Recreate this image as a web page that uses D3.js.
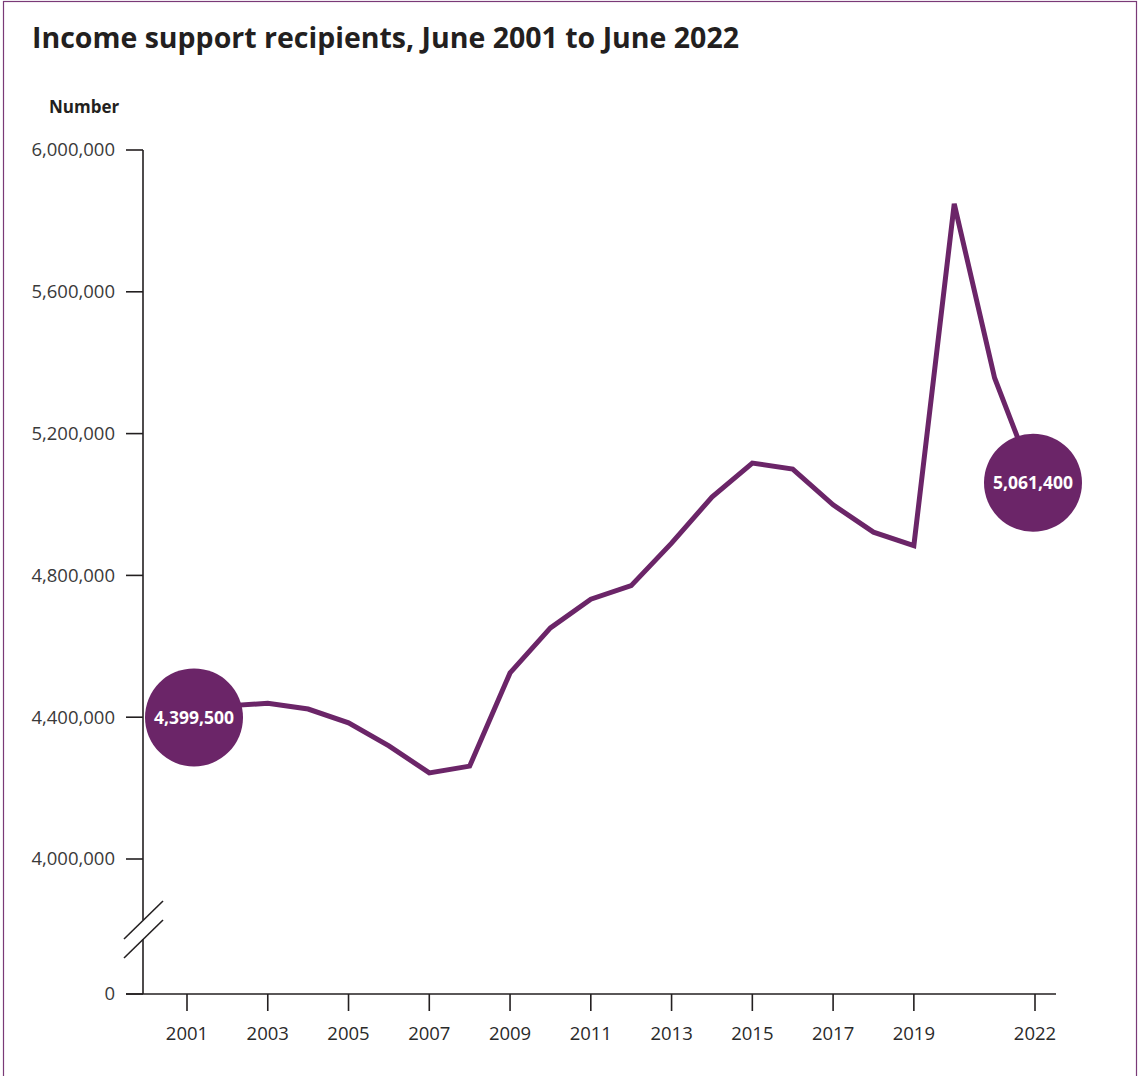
<!DOCTYPE html>
<html>
<head>
<meta charset="utf-8">
<script src="https://cdn.jsdelivr.net/npm/d3@7"></script>
<style>
  html, body { margin: 0; padding: 0; background: #fff; }
  svg { display: block; }
  text { font-family: "Open Sans", "Noto Sans", sans-serif; }
</style>
</head>
<body>
<svg id="chart" width="1140" height="1076"></svg>
<script>
// Income support recipients at June of each year
const years = [2001, 2002, 2003, 2004, 2005, 2006, 2007, 2008, 2009, 2010, 2011,
               2012, 2013, 2014, 2015, 2016, 2017, 2018, 2019, 2020, 2021, 2022];
const recipients = [4399500, 4432000, 4439000, 4423000, 4384000, 4319000, 4243000,
                     4262000, 4525000, 4652000, 4733000, 4771000, 4891000, 5021000,
                     5117000, 5100000, 4999000, 4922000, 4884000, 5848000, 5357000, 5061400];
const xTickYears = [2001, 2003, 2005, 2007, 2009, 2011, 2013, 2015, 2017, 2019, 2022];
const yTickValues = [0, 4000000, 4400000, 4800000, 5200000, 5600000, 6000000];
const highlighted = [
  { year: 2001, value: 4399500, dx: 7 },
  { year: 2022, value: 5061400, dx: -2 }
];

const purple = "#6b2568";
const ink = "#231f20";
const svg = d3.select("#chart");

// Outer frame
svg.append("rect")
  .attr("x", 3.5).attr("y", 1.5)
  .attr("width", 1133).attr("height", 1090)
  .attr("fill", "none").attr("stroke", "#7a3a77").attr("stroke-width", 1.2);

// Title and axis caption
svg.append("text")
  .attr("x", 32).attr("y", 48)
  .attr("font-size", 28.5).attr("font-weight", 700).attr("fill", "#231f20")
  .text("Income support recipients, June 2001 to June 2022");

svg.append("text")
  .attr("x", 49).attr("y", 113)
  .attr("font-size", 17).attr("font-weight", 700).attr("fill", "#231f20")
  .text("Number");

// Scales: the value axis is broken between 0 and 4,000,000
const x = d3.scaleLinear().domain([2001, 2022]).range([187, 1035]);
const y = d3.scaleLinear().domain([0, 4000000, 6000000]).range([994, 859, 150]);

const axisX = 143;
const baseY = y(0);

// Y axis with break
const yAxisG = svg.append("g").attr("stroke", ink).attr("stroke-width", 1.6).attr("fill", "none");
yAxisG.append("line").attr("x1", axisX).attr("x2", axisX).attr("y1", y(6000000)).attr("y2", 920);
yAxisG.append("line").attr("x1", axisX).attr("x2", axisX).attr("y1", 939).attr("y2", baseY);
yAxisG.append("line").attr("x1", 124).attr("y1", 939).attr("x2", 163).attr("y2", 901);
yAxisG.append("line").attr("x1", 124).attr("y1", 958).attr("x2", 163).attr("y2", 920);

const fmt = d3.format(",");
const yTicks = svg.append("g");
yTickValues.forEach(v => {
  yTicks.append("line")
    .attr("x1", 126).attr("x2", axisX)
    .attr("y1", y(v)).attr("y2", y(v))
    .attr("stroke", ink).attr("stroke-width", 1.6);
  yTicks.append("text")
    .attr("x", 115).attr("y", y(v))
    .attr("dy", "0.35em")
    .attr("text-anchor", "end")
    .attr("font-size", 18.5).attr("fill", "#3a3a3a")
    .text(fmt(v));
});

// X axis
const xAxisG = svg.append("g");
xAxisG.append("line")
  .attr("x1", 126).attr("x2", 1056)
  .attr("y1", baseY).attr("y2", baseY)
  .attr("stroke", ink).attr("stroke-width", 1.6);
xTickYears.forEach(yr => {
  xAxisG.append("line")
    .attr("x1", x(yr)).attr("x2", x(yr))
    .attr("y1", baseY).attr("y2", baseY + 17)
    .attr("stroke", ink).attr("stroke-width", 1.6);
  xAxisG.append("text")
    .attr("x", x(yr)).attr("y", 1040)
    .attr("text-anchor", "middle")
    .attr("font-size", 18.5).attr("fill", "#2a2a2a")
    .text(yr);
});

// Series line
const line = d3.line()
  .x((d, i) => x(years[i]))
  .y(d => y(d));

svg.append("path")
  .datum(recipients)
  .attr("d", line)
  .attr("fill", "none")
  .attr("stroke", purple)
  .attr("stroke-width", 5)
  .attr("stroke-linejoin", "miter");

// Start and end value bubbles
const bubbles = svg.append("g");
highlighted.forEach(h => {
  const cx = x(h.year) + h.dx, cy = y(h.value);
  bubbles.append("circle")
    .attr("cx", cx).attr("cy", cy).attr("r", 49)
    .attr("fill", purple);
  bubbles.append("text")
    .attr("x", cx).attr("y", cy)
    .attr("dy", "0.36em")
    .attr("text-anchor", "middle")
    .attr("font-size", 17.5).attr("font-weight", 700).attr("fill", "#fff")
    .text(fmt(h.value));
});
</script>
</body>
</html>
